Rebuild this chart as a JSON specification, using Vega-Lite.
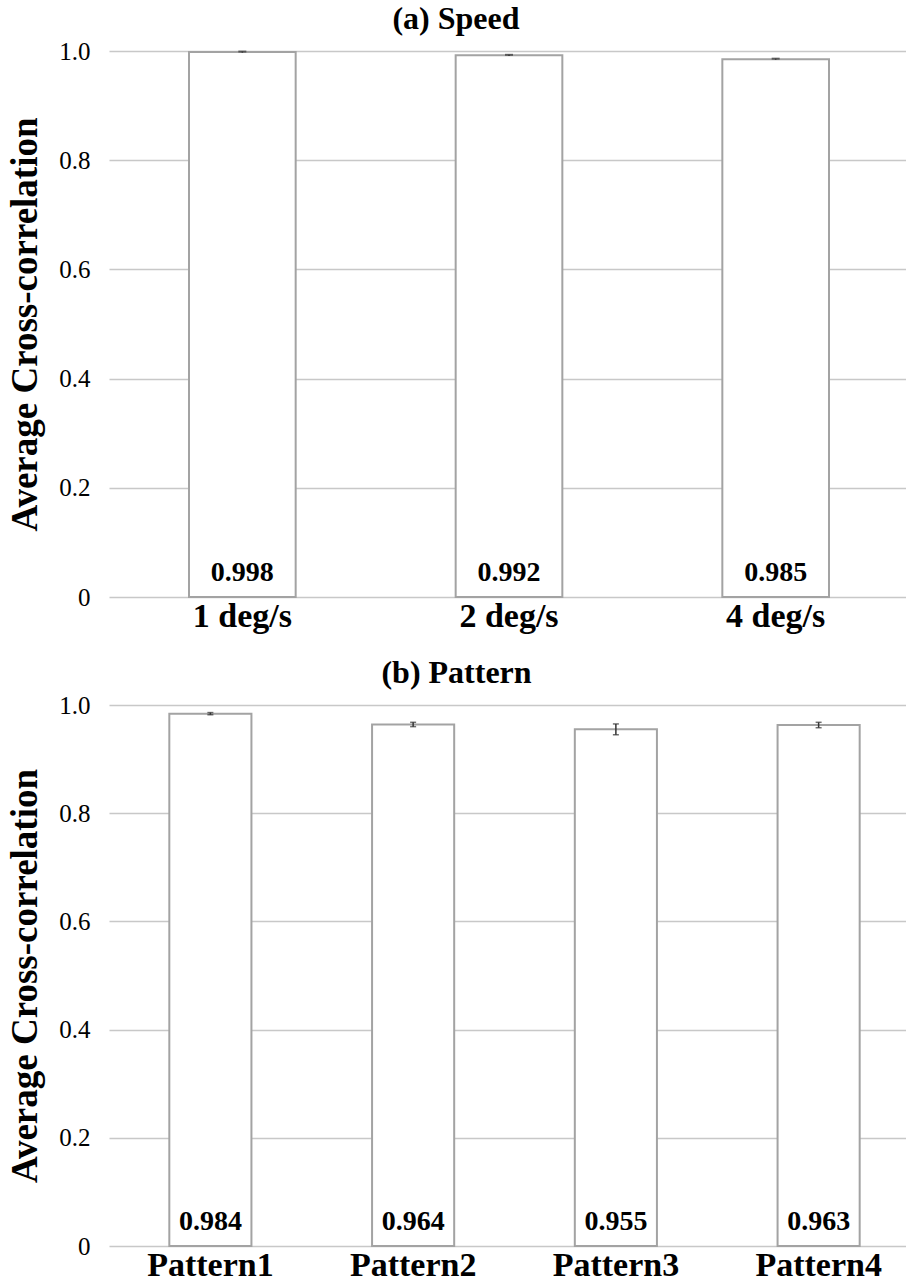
{
  "$schema": "https://vega.github.io/schema/vega-lite/v6.json",
  "padding": {"left": 6, "top": 3, "right": 0, "bottom": 0},
  "background": "white",
  "config": {
    "view": {"stroke": null},
    "font": "Liberation Serif",
    "concat": {"spacing": 24},
    "axis": {"labelFont": "Liberation Serif", "titleFont": "Liberation Serif"},
    "title": {"font": "Liberation Serif"},
    "text": {"font": "Liberation Serif"}
  },
  "vconcat": [
    {
      "width": 800,
      "height": 546,
      "title": {"text": "(a) Speed", "fontSize": 32, "fontWeight": "bold", "font": "Liberation Serif", "color": "black", "offset": 3, "dx": -53},
      "data": {"values": [
        {"cond": "1 deg/s", "value": 0.998, "lo": 0.997, "hi": 0.999, "label": "0.998"},
        {"cond": "2 deg/s", "value": 0.992, "lo": 0.991, "hi": 0.993, "label": "0.992"},
        {"cond": "4 deg/s", "value": 0.985, "lo": 0.984, "hi": 0.986, "label": "0.985"}
      ]},
      "encoding": {
        "x": {"field": "cond", "type": "nominal", "sort": null,
          "scale": {"paddingInner": 0, "paddingOuter": 0},
          "axis": {"title": null, "labelAngle": 0, "labelFont": "Liberation Serif", "labelFontSize": 34, "labelFontWeight": "bold", "labelColor": "black", "ticks": false, "domain": false, "labelPadding": 2}}
      },
      "layer": [
        {
          "mark": {"type": "bar", "fill": "white", "stroke": "#a3a3a3", "strokeWidth": 2, "width": {"band": 0.4}},
          "encoding": {
            "y": {"field": "value", "type": "quantitative", "scale": {"domain": [0, 1]},
              "axis": {"title": "Average Cross-correlation", "titleFont": "Liberation Serif", "titleFontSize": 37, "titleFontWeight": "bold", "titleColor": "black", "titlePadding": 14,
                "values": [0, 0.2, 0.4, 0.6, 0.8, 1.0],
                "labelExpr": "datum.value == 0 ? '0' : format(datum.value, '.1f')",
                "labelFont": "Liberation Serif", "labelFontSize": 25, "labelColor": "black", "labelPadding": 19,
                "ticks": false, "domain": false, "grid": true, "gridColor": "#c8c8c8", "gridWidth": 1.5}}
          }
        },
        {
          "mark": {"type": "rule", "color": "#333333", "strokeWidth": 1.5},
          "encoding": {"y": {"field": "lo", "type": "quantitative"}, "y2": {"field": "hi"}}
        },
        {
          "mark": {"type": "tick", "color": "#333333", "size": 8, "thickness": 2},
          "encoding": {"y": {"field": "hi", "type": "quantitative"}}
        },
        {
          "mark": {"type": "text", "fontSize": 28, "fontWeight": "bold", "color": "black", "baseline": "alphabetic", "dy": -16, "font": "Liberation Serif"},
          "encoding": {"y": {"datum": 0, "type": "quantitative"}, "text": {"field": "label"}}
        }
      ]
    },
    {
      "width": 811,
      "height": 541,
      "title": {"text": "(b) Pattern", "fontSize": 32, "fontWeight": "bold", "font": "Liberation Serif", "color": "black", "offset": 3, "dx": -58},
      "data": {"values": [
        {"cond": "Pattern1", "value": 0.984, "lo": 0.982, "hi": 0.986, "label": "0.984"},
        {"cond": "Pattern2", "value": 0.964, "lo": 0.960, "hi": 0.968, "label": "0.964"},
        {"cond": "Pattern3", "value": 0.955, "lo": 0.945, "hi": 0.965, "label": "0.955"},
        {"cond": "Pattern4", "value": 0.963, "lo": 0.958, "hi": 0.968, "label": "0.963"}
      ]},
      "encoding": {
        "x": {"field": "cond", "type": "nominal", "sort": null,
          "scale": {"paddingInner": 0, "paddingOuter": 0},
          "axis": {"title": null, "labelAngle": 0, "labelFont": "Liberation Serif", "labelFontSize": 34, "labelFontWeight": "bold", "labelColor": "black", "ticks": false, "domain": false, "labelPadding": 2}}
      },
      "layer": [
        {
          "mark": {"type": "bar", "fill": "white", "stroke": "#a3a3a3", "strokeWidth": 2, "width": {"band": 0.405}},
          "encoding": {
            "y": {"field": "value", "type": "quantitative", "scale": {"domain": [0, 1]},
              "axis": {"title": "Average Cross-correlation", "titleFont": "Liberation Serif", "titleFontSize": 37, "titleFontWeight": "bold", "titleColor": "black", "titlePadding": 14,
                "values": [0, 0.2, 0.4, 0.6, 0.8, 1.0],
                "labelExpr": "datum.value == 0 ? '0' : format(datum.value, '.1f')",
                "labelFont": "Liberation Serif", "labelFontSize": 25, "labelColor": "black", "labelPadding": 19,
                "ticks": false, "domain": false, "grid": true, "gridColor": "#c8c8c8", "gridWidth": 1.5}}
          }
        },
        {
          "mark": {"type": "rule", "color": "#333333", "strokeWidth": 1.5},
          "encoding": {"y": {"field": "lo", "type": "quantitative"}, "y2": {"field": "hi"}}
        },
        {
          "mark": {"type": "tick", "color": "#333333", "size": 6, "thickness": 1.5},
          "encoding": {"y": {"field": "lo", "type": "quantitative"}}
        },
        {
          "mark": {"type": "tick", "color": "#333333", "size": 6, "thickness": 1.5},
          "encoding": {"y": {"field": "hi", "type": "quantitative"}}
        },
        {
          "mark": {"type": "text", "fontSize": 28, "fontWeight": "bold", "color": "black", "baseline": "alphabetic", "dy": -16, "font": "Liberation Serif"},
          "encoding": {"y": {"datum": 0, "type": "quantitative"}, "text": {"field": "label"}}
        }
      ]
    }
  ]
}
